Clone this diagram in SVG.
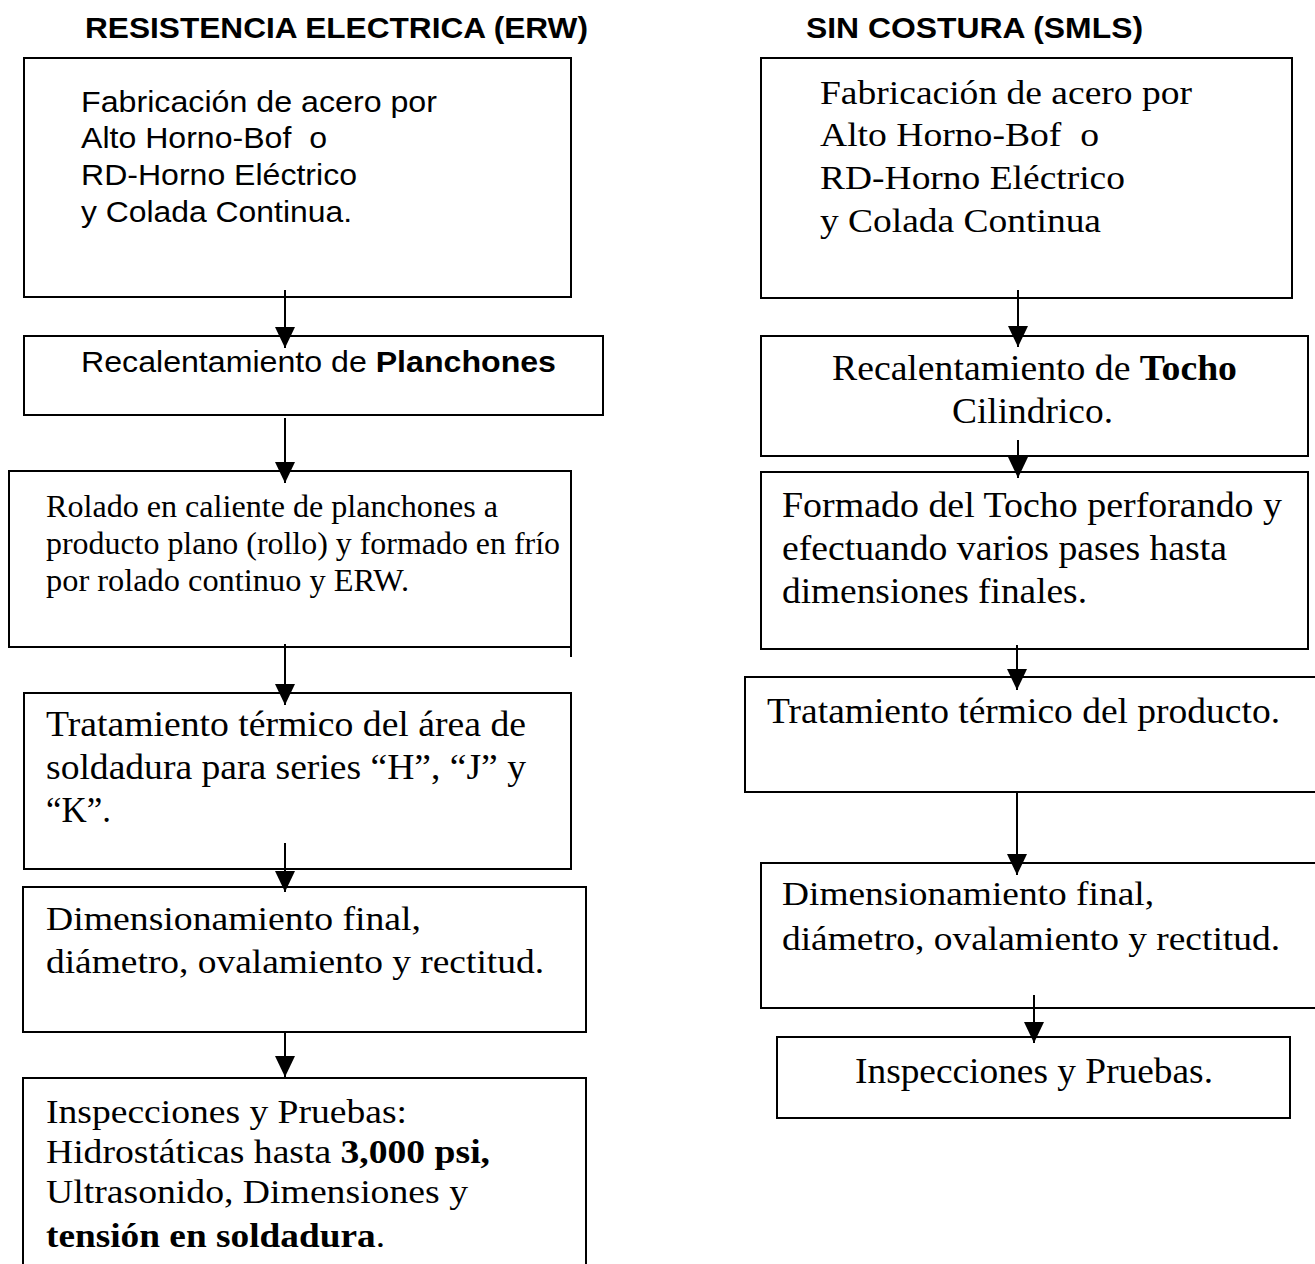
<svg xmlns="http://www.w3.org/2000/svg" width="1315" height="1264" viewBox="0 0 1315 1264">
<style>
.box{fill:none;stroke:#000;stroke-width:2}
.title{font-family:"Liberation Sans",Arial,sans-serif;font-weight:bold;font-size:29px;fill:#000}
.sans{font-family:"Liberation Sans",Arial,sans-serif;font-size:29px;fill:#000}
.serif{font-family:"Liberation Serif","Times New Roman",serif;font-size:35px;fill:#000}
.b{font-weight:bold}
.conn line{stroke:#000;stroke-width:2;marker-end:url(#arr)}
</style>
<defs>
<marker id="arr" viewBox="0 0 21 20" refX="21" refY="10" markerWidth="21" markerHeight="20" markerUnits="userSpaceOnUse" orient="auto">
<path d="M0,0 L21,10 L0,20 z" fill="#000"/>
</marker>
</defs>
<rect width="1315" height="1264" fill="#fff"/>

<text class="title" x="85" y="38" textLength="503" lengthAdjust="spacingAndGlyphs">RESISTENCIA ELECTRICA (ERW)</text>
<text class="title" x="806" y="38" textLength="337" lengthAdjust="spacingAndGlyphs">SIN COSTURA (SMLS)</text>

<g id="L1">
<rect class="box" x="24" y="58" width="547" height="239"/>
<text class="sans" x="81" y="112" textLength="356" lengthAdjust="spacingAndGlyphs">Fabricación de acero por</text>
<text class="sans" x="81" y="148" textLength="246" lengthAdjust="spacingAndGlyphs">Alto Horno-Bof&#160; o</text>
<text class="sans" x="81" y="185" textLength="276" lengthAdjust="spacingAndGlyphs">RD-Horno Eléctrico</text>
<text class="sans" x="81" y="222" textLength="271" lengthAdjust="spacingAndGlyphs">y Colada Continua.</text>
</g>
<g id="L2">
<rect class="box" x="24" y="336" width="579" height="79"/>
<text class="sans" x="81" y="372" style="font-size:30px" textLength="475" lengthAdjust="spacingAndGlyphs">Recalentamiento de <tspan class="b">Planchones</tspan></text>
</g>
<g id="L3">
<rect class="box" x="9" y="471" width="562" height="176"/>
<line x1="571" y1="647" x2="571" y2="657" stroke="#000" stroke-width="2"/>
<text class="serif" x="46" y="517" style="font-size:31px" textLength="452" lengthAdjust="spacingAndGlyphs">Rolado en caliente de planchones a</text>
<text class="serif" x="46" y="554" style="font-size:31px" textLength="514" lengthAdjust="spacingAndGlyphs">producto plano (rollo) y formado en frío</text>
<text class="serif" x="46" y="591" style="font-size:31px" textLength="363" lengthAdjust="spacingAndGlyphs">por rolado continuo y ERW.</text>
</g>
<g id="L4">
<rect class="box" x="24" y="693" width="547" height="176"/>
<text class="serif" x="46" y="736" textLength="480" lengthAdjust="spacingAndGlyphs">Tratamiento térmico del área de</text>
<text class="serif" x="46" y="779" textLength="480" lengthAdjust="spacingAndGlyphs">soldadura para series “H”, “J” y</text>
<text class="serif" x="46" y="822" textLength="65" lengthAdjust="spacingAndGlyphs">“K”.</text>
</g>
<g id="L5">
<rect class="box" x="23" y="887" width="563" height="145"/>
<text class="serif" x="46" y="930" style="font-size:34px" textLength="375" lengthAdjust="spacingAndGlyphs">Dimensionamiento final,</text>
<text class="serif" x="46" y="973" style="font-size:34px" textLength="498" lengthAdjust="spacingAndGlyphs">diámetro, ovalamiento y rectitud.</text>
</g>
<g id="L6">
<rect class="box" x="23" y="1078" width="563" height="200"/>
<text class="serif" x="46" y="1123" style="font-size:34px" textLength="361" lengthAdjust="spacingAndGlyphs">Inspecciones y Pruebas:</text>
<text class="serif" x="46" y="1163" style="font-size:34px" textLength="444" lengthAdjust="spacingAndGlyphs">Hidrostáticas hasta <tspan class="b">3,000 psi,</tspan></text>
<text class="serif" x="46" y="1203" style="font-size:34px" textLength="422" lengthAdjust="spacingAndGlyphs">Ultrasonido, Dimensiones y</text>
<text class="serif" x="46" y="1247" style="font-size:34px" textLength="339" lengthAdjust="spacingAndGlyphs"><tspan class="b">tensión en soldadura</tspan>.</text>
</g>

<g id="R1">
<rect class="box" x="761" y="58" width="531" height="240"/>
<text class="serif" x="820" y="104" style="font-size:34px" textLength="372" lengthAdjust="spacingAndGlyphs">Fabricación de acero por</text>
<text class="serif" x="820" y="146" style="font-size:34px" textLength="279" lengthAdjust="spacingAndGlyphs">Alto Horno-Bof&#160; o</text>
<text class="serif" x="820" y="189" style="font-size:34px" textLength="305" lengthAdjust="spacingAndGlyphs">RD-Horno Eléctrico</text>
<text class="serif" x="820" y="232" style="font-size:34px" textLength="281" lengthAdjust="spacingAndGlyphs">y Colada Continua</text>
</g>
<g id="R2">
<rect class="box" x="761" y="336" width="547" height="120"/>
<text class="serif" x="832" y="380" textLength="405" lengthAdjust="spacingAndGlyphs">Recalentamiento de <tspan class="b">Tocho</tspan></text>
<text class="serif" x="952" y="423" textLength="161" lengthAdjust="spacingAndGlyphs">Cilindrico.</text>
</g>
<g id="R3">
<rect class="box" x="761" y="472" width="547" height="177"/>
<text class="serif" x="782" y="517" textLength="500" lengthAdjust="spacingAndGlyphs">Formado del Tocho perforando y</text>
<text class="serif" x="782" y="560" textLength="445" lengthAdjust="spacingAndGlyphs">efectuando varios pases hasta</text>
<text class="serif" x="782" y="603" textLength="305" lengthAdjust="spacingAndGlyphs">dimensiones finales.</text>
</g>
<g id="R4">
<rect class="box" x="745" y="677" width="580" height="115"/>
<text class="serif" x="767" y="723" textLength="513" lengthAdjust="spacingAndGlyphs">Tratamiento térmico del producto.</text>
</g>
<g id="R5">
<rect class="box" x="761" y="863" width="564" height="145"/>
<text class="serif" x="782" y="905" style="font-size:34px" textLength="372" lengthAdjust="spacingAndGlyphs">Dimensionamiento final,</text>
<text class="serif" x="782" y="950" style="font-size:34px" textLength="498" lengthAdjust="spacingAndGlyphs">diámetro, ovalamiento y rectitud.</text>
</g>
<g id="R6">
<rect class="box" x="777" y="1037" width="513" height="81"/>
<text class="serif" x="855" y="1083" textLength="358" lengthAdjust="spacingAndGlyphs">Inspecciones y Pruebas.</text>
</g>

<g id="connectors" class="conn">
<line x1="285" y1="290" x2="285" y2="348"/>
<line x1="285" y1="418" x2="285" y2="483"/>
<line x1="285" y1="644" x2="285" y2="705"/>
<line x1="285" y1="843" x2="285" y2="892"/>
<line x1="285" y1="1032" x2="285" y2="1077"/>
<line x1="1018" y1="290" x2="1018" y2="347"/>
<line x1="1018" y1="440" x2="1018" y2="478"/>
<line x1="1017" y1="645" x2="1017" y2="690"/>
<line x1="1017" y1="792" x2="1017" y2="875"/>
<line x1="1034" y1="995" x2="1034" y2="1043"/>
</g>
</svg>
